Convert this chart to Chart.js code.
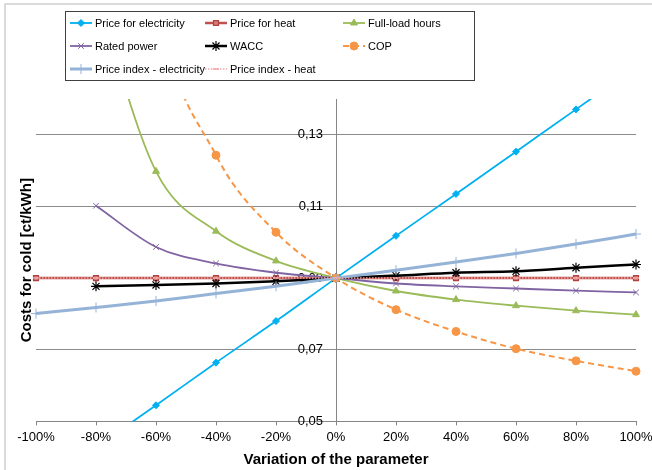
<!DOCTYPE html>
<html lang="en">
<head>
    <meta charset="UTF-8">
    <title>Costs for cold - sensitivity</title>
    <style>
        html, body {
            margin: 0;
            padding: 0;
            background-color: #fff;
        }

        .container {
            width: 652px;
            height: 470px;
        }
    </style>
</head>
<body>
    <div class="container">
        <canvas id="sensitivityChart" width="652" height="470"></canvas>
    </div>

    <script src="https://cdn.jsdelivr.net/npm/chart.js"></script>
    <script>
        // Values
        const variation = [-100, -80, -60, -40, -20, 0, 20, 40, 60, 80, 100];
        const priceElectricity = [0.031, 0.0428, 0.0545, 0.0664, 0.078, 0.09, 0.1018, 0.1135, 0.1253, 0.1371, 0.149];
        const priceHeat = [0.09, 0.09, 0.09, 0.09, 0.09, 0.09, 0.09, 0.09, 0.09, 0.09, 0.09];
        const fullLoadHours = [null, 0.169, 0.1198, 0.1031, 0.0948, 0.09, 0.0864, 0.084, 0.0823, 0.0809, 0.0798];
        const ratedPower = [null, 0.1102, 0.0987, 0.0941, 0.0915, 0.09, 0.0885, 0.0877, 0.0871, 0.0865, 0.086];
        const wacc = [null, 0.0877, 0.0881, 0.0885, 0.0891, 0.09, 0.0907, 0.0915, 0.0919, 0.0929, 0.0938];
        const cop = [null, 0.298, 0.168, 0.1243, 0.1028, 0.09, 0.0812, 0.0751, 0.0703, 0.0669, 0.064];
        const indexElectricity = [0.0801, 0.0818, 0.0836, 0.0857, 0.0877, 0.09, 0.0922, 0.0945, 0.0969, 0.0995, 0.1023];
        const indexHeat = [0.09, 0.09, 0.09, 0.09, 0.09, 0.09, 0.09, 0.09, 0.09, 0.09, 0.09];
        const yTicks = [0.05, 0.07, 0.09, 0.11, 0.13];

        Chart.defaults.font.family = '"Liberation Sans", Arial, sans-serif';
        Chart.defaults.color = '#000';

        function points(values) {
            return values.map((v, i) => ({ x: variation[i], y: v }));
        }

        // Turn one series into a line dataset
        function series(label, values, style) {
            return Object.assign({
                label: label,
                data: points(values),
                fill: false,
                cubicInterpolationMode: 'monotone',
                spanGaps: false,
                clip: { left: 8, right: 8, top: 0, bottom: 0 },
                pointHoverRadius: 4
            }, style);
        }

        const datasets = [
            series('Price for electricity', priceElectricity, {
                borderColor: '#00B0F0', borderWidth: 1.8,
                pointStyle: 'rectRot', pointRadius: 3.5,
                pointBackgroundColor: '#00B0F0', pointBorderColor: '#00B0F0', pointBorderWidth: 1
            }),
            series('Price for heat', priceHeat, {
                borderColor: '#C0504D', borderWidth: 2.5,
                pointStyle: 'rect', pointRadius: 3.5,
                pointBackgroundColor: '#D47C79', pointBorderColor: '#B0403D', pointBorderWidth: 1.2
            }),
            series('Full-load hours', fullLoadHours, {
                borderColor: '#9BBB59', borderWidth: 1.8,
                pointStyle: 'triangle', pointRadius: 4,
                pointBackgroundColor: '#9BBB59', pointBorderColor: '#9BBB59', pointBorderWidth: 1
            }),
            series('Rated power', ratedPower, {
                borderColor: '#8064A2', borderWidth: 1.8,
                pointStyle: 'crossRot', pointRadius: 4,
                pointBackgroundColor: '#8064A2', pointBorderColor: '#8064A2', pointBorderWidth: 1
            }),
            series('WACC', wacc, {
                borderColor: '#000', borderWidth: 2.5,
                pointStyle: 'star', pointRadius: 5,
                pointBackgroundColor: '#000', pointBorderColor: '#000', pointBorderWidth: 1.2
            }),
            series('COP', cop, {
                borderColor: '#F79646', borderWidth: 2, borderDash: [6, 4],
                pointStyle: 'circle', pointRadius: 4,
                pointBackgroundColor: '#F79646', pointBorderColor: '#F79646', pointBorderWidth: 1
            }),
            series('Price index - electricity', indexElectricity, {
                borderColor: '#95B3D7', borderWidth: 3,
                pointStyle: 'cross', pointRadius: 5,
                pointBackgroundColor: '#95B3D7', pointBorderColor: '#95B3D7', pointBorderWidth: 1
            }),
            series('Price index - heat', indexHeat, {
                borderColor: '#F0A8A6', borderWidth: 1.5, borderDash: [1.5, 1.5],
                pointStyle: 'line', pointRadius: 3,
                pointBackgroundColor: '#F0A8A6', pointBorderColor: '#F0A8A6', pointBorderWidth: 1.5
            })
        ];
        // later series sit on top, like the original
        datasets.forEach((d, i) => { d.order = datasets.length - i; });

        // Boxed legend in three columns
        const boxLegend = {
            id: 'boxLegend',
            afterDraw(chart) {
                const ctx = chart.ctx;
                const colX = [70, 205, 343];
                const rowY = [23, 46, 69];
                ctx.save();
                ctx.strokeStyle = '#404040';
                ctx.lineWidth = 1;
                ctx.strokeRect(65.5, 11.5, 409, 69);
                chart.data.datasets.forEach((d, i) => {
                    const x = colX[i % 3];
                    const y = rowY[Math.floor(i / 3)];
                    ctx.save();
                    ctx.strokeStyle = d.borderColor;
                    ctx.lineWidth = d.borderWidth;
                    ctx.setLineDash(d.borderDash || []);
                    ctx.beginPath();
                    ctx.moveTo(x, y);
                    ctx.lineTo(x + 22, y);
                    ctx.stroke();
                    ctx.setLineDash([]);
                    ctx.fillStyle = d.pointBackgroundColor;
                    ctx.strokeStyle = d.pointBorderColor;
                    ctx.lineWidth = d.pointBorderWidth;
                    if (Chart.helpers && Chart.helpers.drawPoint) {
                        Chart.helpers.drawPoint(ctx, {
                            pointStyle: d.pointStyle,
                            radius: d.pointRadius,
                            rotation: 0,
                            borderWidth: d.pointBorderWidth
                        }, x + 11, y);
                    }
                    ctx.restore();
                    ctx.fillStyle = '#000';
                    ctx.font = '11px "Liberation Sans", Arial, sans-serif';
                    ctx.textBaseline = 'middle';
                    ctx.textAlign = 'left';
                    ctx.fillText(d.label, x + 25, y + 1);
                });
                ctx.restore();
            }
        };

        // Light frame round the whole chart
        const frame = {
            id: 'frame',
            beforeDraw(chart) {
                const ctx = chart.ctx;
                ctx.save();
                ctx.fillStyle = '#fff';
                ctx.fillRect(0, 0, chart.width, chart.height);
                ctx.strokeStyle = '#D0D0D0';
                ctx.lineWidth = 1.5;
                ctx.strokeRect(5, 4, chart.width + 20, chart.height + 20);
                ctx.restore();
            }
        };

        // The centred y axis ignores tick padding, so move its labels left a bit
        const shiftYLabels = {
            id: 'shiftYLabels',
            beforeDraw(chart) {
                const items = chart.scales.y.getLabelItems() || [];
                items.forEach(it => {
                    const t = (it.options && it.options.translation) || it.translation;
                    if (t && !it.shifted) {
                        t[0] -= 13;
                        it.shifted = true;
                    }
                });
            }
        };

        const ctx = document.getElementById('sensitivityChart').getContext('2d');
        new Chart(ctx, {
            type: 'line',
            data: { datasets: datasets },
            plugins: [frame, shiftYLabels, boxLegend],
            options: {
                responsive: false,
                animation: false,
                layout: {
                    padding: { top: 99, left: 12, right: 16, bottom: 1 }
                },
                plugins: {
                    legend: { display: false },
                    tooltip: { enabled: false }
                },
                scales: {
                    x: {
                        type: 'linear',
                        min: -100,
                        max: 100,
                        afterFit: scale => {
                            scale.paddingRight = Math.min(scale.paddingRight, 14);
                        },
                        ticks: {
                            stepSize: 20,
                            padding: 4,
                            font: { size: 13 },
                            callback: v => v + '%'
                        },
                        grid: {
                            display: true,
                            drawOnChartArea: false,
                            drawTicks: true,
                            tickLength: 4,
                            color: '#868686'
                        },
                        border: { color: '#868686' },
                        title: {
                            display: true,
                            text: 'Variation of the parameter',
                            font: { size: 15, weight: 'bold' },
                            padding: { top: 2, bottom: 0 }
                        }
                    },
                    y: {
                        type: 'linear',
                        position: { x: 0 },
                        min: 0.05,
                        max: 0.14,
                        afterBuildTicks: scale => {
                            scale.ticks = yTicks.map(v => ({ value: v }));
                        },
                        ticks: {
                            font: { size: 13 },
                            callback: v => v.toFixed(2).replace('.', ',')
                        },
                        grid: {
                            color: '#8c8c8c',
                            drawTicks: false
                        },
                        border: { color: '#868686' }
                    },
                    yTitle: {
                        type: 'linear',
                        position: 'left',
                        ticks: { display: false },
                        grid: { display: false, drawTicks: false },
                        border: { display: false },
                        title: {
                            display: true,
                            text: 'Costs for cold [ct/kWh]',
                            font: { size: 15, weight: 'bold' },
                            padding: { top: 6, bottom: 0 }
                        }
                    }
                }
            }
        });
    </script>
</body>
</html>
